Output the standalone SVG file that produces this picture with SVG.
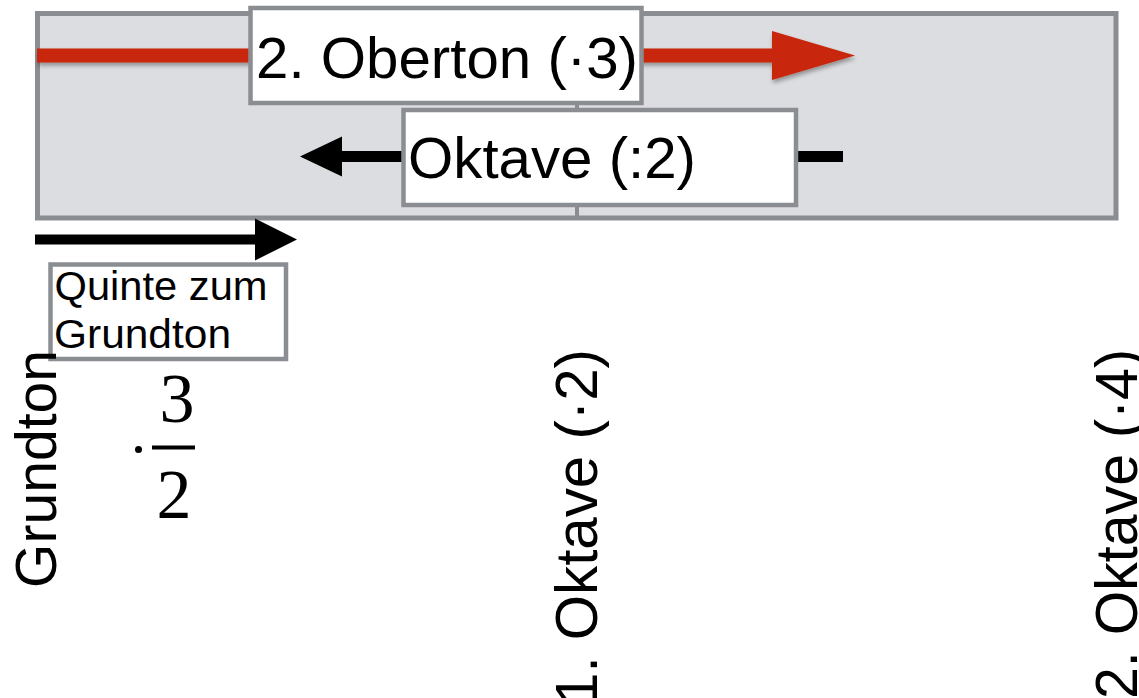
<svg xmlns="http://www.w3.org/2000/svg" width="1139" height="698" viewBox="0 0 1139 698">
<style>
.lbl{font-family:"Liberation Sans",Arial,sans-serif;fill:#000}
.box{fill:#fff;stroke:#8a8d92;stroke-width:4.5}
.frame{fill:#dcdde0;stroke:#8a8d92;stroke-width:5}
.tick{stroke:#8a8d92;stroke-width:4}
.red{stroke:#c8260a;stroke-width:14;fill:none}
.blk{stroke:#000;fill:none}
.num{font-family:"Liberation Serif","Times New Roman",serif;fill:#000}
</style>
<defs>
<filter id="sh" filterUnits="userSpaceOnUse" x="0" y="0" width="1139" height="698">
<feDropShadow dx="1" dy="3" stdDeviation="2" flood-color="#000" flood-opacity="0.35"/>
</filter>
<marker id="hRed" markerUnits="userSpaceOnUse" markerWidth="84" markerHeight="50" refX="0" refY="24.5" orient="auto" overflow="visible">
<path d="M0,0 L83,24.5 L0,49 Z" fill="#c8260a"/>
</marker>
<marker id="hBlk" markerUnits="userSpaceOnUse" markerWidth="43" markerHeight="42" refX="0" refY="20" orient="auto" overflow="visible">
<path d="M0,0 L42,20 L0,40 Z" fill="#000"/>
</marker>
<marker id="hBlk2" markerUnits="userSpaceOnUse" markerWidth="43" markerHeight="43" refX="0" refY="21" orient="auto" overflow="visible">
<path d="M0,0 L42,21 L0,42 Z" fill="#000"/>
</marker>
</defs>

<g id="frame">
<rect class="frame" x="37.5" y="13.5" width="1078.5" height="204.5"/>
<line class="tick" x1="577" y1="15" x2="577" y2="216"/>
</g>

<g id="connectors">
<g filter="url(#sh)">
<line class="red" x1="37" y1="55.5" x2="772" y2="55.5" marker-end="url(#hRed)"/>
</g>
<line class="blk" stroke-width="11" x1="843" y1="156.5" x2="342" y2="156.5" marker-end="url(#hBlk)"/>
<line class="blk" stroke-width="10" x1="35" y1="239.5" x2="255" y2="239.5" marker-end="url(#hBlk2)"/>
</g>

<g id="oberton">
<rect class="box" x="250.5" y="8" width="391" height="95"/>
<text class="lbl" x="256" y="78" font-size="57" textLength="382" lengthAdjust="spacingAndGlyphs">2. Oberton (·3)</text>
</g>

<g id="oktave">
<rect class="box" x="403.5" y="110" width="392.5" height="95"/>
<text class="lbl" x="408" y="178" font-size="57" textLength="288" lengthAdjust="spacingAndGlyphs">Oktave (:2)</text>
</g>

<g id="quinte">
<rect class="box" x="50.5" y="264.5" width="235.5" height="94.5"/>
<text class="lbl" x="54.5" y="300" font-size="40" textLength="213" lengthAdjust="spacingAndGlyphs">Quinte zum</text>
<text class="lbl" x="54" y="348" font-size="40" textLength="177" lengthAdjust="spacingAndGlyphs">Grundton</text>
</g>

<g id="grundton">
<text class="lbl" transform="translate(56,588) rotate(-90)" font-size="57" textLength="238" lengthAdjust="spacingAndGlyphs">Grundton</text>
</g>

<g id="fraction">
<circle cx="138.5" cy="449.5" r="3.5" fill="#000"/>
<line x1="152" y1="447.5" x2="195" y2="447.5" stroke="#000" stroke-width="4"/>
<text class="num" x="177" y="422" font-size="70" text-anchor="middle">3</text>
<text class="num" x="174" y="518" font-size="70" text-anchor="middle">2</text>
</g>

<g id="oktave1">
<text class="lbl" transform="translate(597,705) rotate(-90)" font-size="60" textLength="356" lengthAdjust="spacingAndGlyphs">1. Oktave (·2)</text>
</g>

<g id="oktave2">
<text class="lbl" transform="translate(1137,699) rotate(-90)" font-size="60" textLength="350" lengthAdjust="spacingAndGlyphs">2. Oktave (·4)</text>
</g>
</svg>
